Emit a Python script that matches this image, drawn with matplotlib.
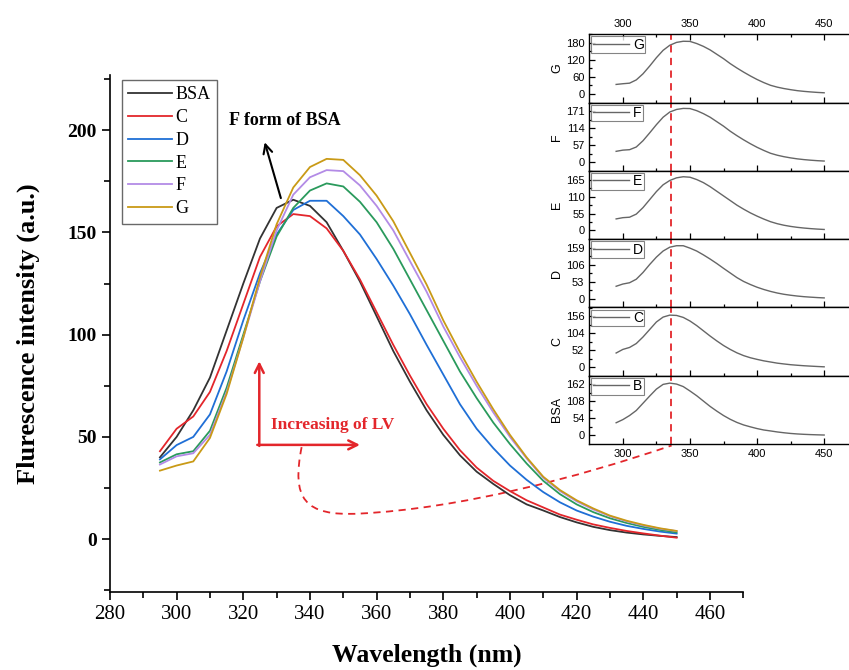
import matplotlib.pyplot as plt
from matplotlib.path import Path
from matplotlib.patches import PathPatch
from matplotlib.ticker import MultipleLocator, FixedLocator

# emission spectra, 295-450 nm in 5 nm steps
wavelength = list(range(295, 451, 5))

bsa = [40, 50, 63, 79, 102, 125, 147, 162, 166, 163, 155, 141, 126, 109, 92, 77,
       63, 51, 41, 33, 27, 21.5, 17, 14, 10.8, 8.2, 6, 4.4, 3.2, 2.3, 1.6, 1]
c = [43, 54, 60, 72, 92, 115, 138, 153, 159, 158, 152, 141, 127, 111, 95, 80,
     66, 54, 43.5, 35, 28.5, 23.5, 19, 15.5, 12, 9.5, 7.2, 5.5, 4, 2.8, 1.7, 0.7]
d = [39, 46, 50, 61, 82, 107, 130, 149, 161, 165.5, 165.5, 158, 149, 137, 124, 110,
     95, 80.5, 66, 54, 44.5, 36, 29, 23, 18, 14, 11, 8.5, 6.5, 5, 3.7, 2.7]
e = [37.5, 41.5, 43, 53, 74, 100, 126, 148, 162, 170.5, 174, 172.5, 165, 155, 142, 127,
     112, 97, 82, 69, 57, 46.5, 37, 28.5, 22, 17, 13.2, 10.2, 7.9, 6, 4.5, 3.3]
f = [36.5, 40.5, 42, 51, 72, 98.5, 126, 151, 168.5, 177, 180.5, 180, 173, 163, 151, 136,
     121, 104, 89, 75, 62, 50, 39.5, 30, 23.5, 18.5, 14.5, 11.2, 8.7, 6.7, 5.1, 3.9]
g = [33.5, 36, 38, 49.5, 71, 98.5, 128, 154, 172, 182, 186, 185.5, 178, 168, 155.5, 140,
     124.5, 107, 91.5, 77, 63.5, 51, 40, 30.5, 24, 19, 15, 11.5, 9, 7, 5.3, 4]

labels = ['BSA', 'C', 'D', 'E', 'F', 'G']
colors = ['#333333', '#e3262b', '#1f6fd6', '#2a9a5c', '#b38be6', '#c99a16']
series = [bsa, c, d, e, f, g]

# inset panels, top to bottom
inset_names = ['G', 'F', 'E', 'D', 'C', 'BSA']
inset_keys = ['G', 'F', 'E', 'D', 'C', 'B']
inset_series = [g, f, e, d, c, bsa]
inset_ticks = [[0, 60, 120, 180], [0, 57, 114, 171], [0, 55, 110, 165],
               [0, 53, 106, 159], [0, 52, 104, 156], [0, 54, 108, 162]]

serif = 'Liberation Serif'
sans = 'Liberation Sans'

fig = plt.figure(figsize=(8.49, 6.70), dpi=100)
ax = fig.add_axes([0.1295, 0.116, 0.746, 0.772])

for y, lab, col in zip(series, labels, colors):
    ax.plot(wavelength, y, color=col, lw=1.3, label=lab)

ax.set_xlim(280, 470)
ax.set_ylim(-26, 227)
ax.spines['top'].set_visible(False)
ax.spines['right'].set_visible(False)
for s in ['left', 'bottom']:
    ax.spines[s].set_linewidth(1.2)
ax.xaxis.set_major_locator(MultipleLocator(20))
ax.xaxis.set_minor_locator(MultipleLocator(10))
ax.yaxis.set_major_locator(MultipleLocator(50))
ax.yaxis.set_minor_locator(MultipleLocator(25))
ax.tick_params(which='major', direction='out', length=6, width=1.2)
ax.tick_params(which='minor', direction='out', length=4, width=1.2)
for t in ax.get_xticklabels():
    t.set_fontfamily(serif)
    t.set_fontsize(15)
for t in ax.get_yticklabels():
    t.set_fontfamily(serif)
    t.set_fontsize(14)
    t.set_fontweight('bold')

ax.set_xlabel('Wavelength (nm)', fontfamily=serif, fontsize=18.5, fontweight='bold', labelpad=14)
ax.set_ylabel('Flurescence intensity (a.u.)', fontfamily=serif, fontsize=19, fontweight='bold', labelpad=20)

leg = ax.legend(loc='upper left', bbox_to_anchor=(122 / 849, 1 - 80 / 670),
                bbox_transform=fig.transFigure, prop={'family': serif, 'size': 13},
                frameon=True, fancybox=False, handlelength=2.4, handletextpad=0.2,
                labelspacing=0.32, borderpad=0.35, borderaxespad=0)
leg.get_frame().set_edgecolor('#444444')
leg.get_frame().set_linewidth(1.0)

# annotations
ax.annotate('', xy=(326.2, 195.4), xytext=(331.5, 165.5),
            arrowprops=dict(arrowstyle='->', lw=1.5, color='black', mutation_scale=16))
ax.text(332.5, 205, 'F form of BSA', fontfamily=serif, fontsize=13, fontweight='bold',
        ha='center', va='center')

red = '#e3262b'
ax.annotate('', xy=(324.8, 87), xytext=(324.8, 45.6),
            arrowprops=dict(arrowstyle='->', lw=1.8, color=red, mutation_scale=16, shrinkA=0, shrinkB=0))
ax.annotate('', xy=(355, 46.1), xytext=(324.2, 46.1),
            arrowprops=dict(arrowstyle='->', lw=1.8, color=red, mutation_scale=16, shrinkA=0, shrinkB=0))
ax.text(328.3, 56, 'Increasing of LV', fontfamily=serif, fontsize=12.5, fontweight='bold',
        color=red, ha='left', va='center')

verts = [(337.5, 45), (334.5, 20), (338, 11), (355, 12.5),
         (385, 15), (420, 30), (448.5, 45.8)]
codes = [Path.MOVETO, Path.CURVE4, Path.CURVE4, Path.CURVE4,
         Path.CURVE4, Path.CURVE4, Path.CURVE4]
ax.add_patch(PathPatch(Path(verts, codes), fill=False, edgecolor=red, lw=1.3,
                       linestyle=(0, (4, 3)), clip_on=False))

# stacked inset
in_left, in_bottom, in_top = 589.3 / 849, 1 - 444 / 670, 1 - 34.3 / 670
in_h = (in_top - in_bottom) / 6
for i, (name, key, y, ticks) in enumerate(zip(inset_names, inset_keys, inset_series, inset_ticks)):
    bottom = in_top - (i + 1) * in_h
    iax = fig.add_axes([in_left, bottom, 1.0 - in_left, in_h])
    iax.plot(wavelength, y, color='#666666', lw=1.0, label=key)
    iax.axvline(336, color=red, lw=1.3, linestyle=(0, (4, 3)))
    top = ticks[-1]
    iax.set_xlim(275, 468.5)
    iax.set_ylim(-0.17 * top, 1.17 * top)
    iax.spines['right'].set_visible(False)
    for s in iax.spines.values():
        s.set_linewidth(1.0)
    iax.xaxis.set_major_locator(FixedLocator([300, 350, 400, 450]))
    iax.xaxis.set_minor_locator(FixedLocator([325, 375, 425]))
    iax.yaxis.set_major_locator(FixedLocator(ticks))
    step = ticks[1] - ticks[0]
    iax.yaxis.set_minor_locator(FixedLocator([t + step / 2 for t in ticks]))
    iax.tick_params(which='both', direction='in', labelsize=8, width=0.9,
                    top=(i == 0), bottom=True, labeltop=(i == 0), labelbottom=(i == 5))
    iax.tick_params(which='major', length=4)
    iax.tick_params(which='minor', length=2.5)
    for t in iax.get_xticklabels() + iax.get_yticklabels():
        t.set_fontfamily(sans)
    iax.set_ylabel(name, fontfamily=sans, fontsize=9, labelpad=2)
    il = iax.legend(loc='upper left', bbox_to_anchor=(0, 1), borderaxespad=0.15,
                    prop={'family': sans, 'size': 10}, fancybox=False, handlelength=2.6,
                    handletextpad=0.3, borderpad=0.1)
    il.get_frame().set_edgecolor('#666666')
    il.get_frame().set_linewidth(0.8)

fig.savefig('out.png', dpi=100)
